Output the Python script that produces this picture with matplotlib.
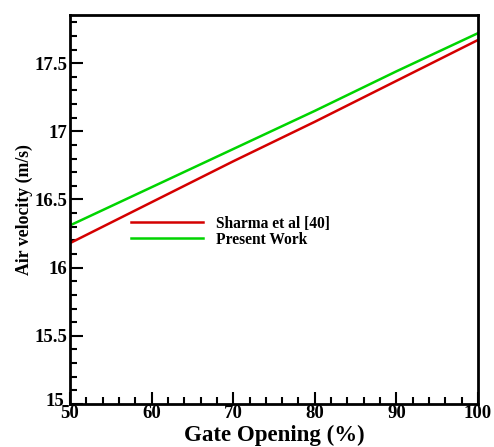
import numpy as np
import matplotlib
matplotlib.use('Agg')
import matplotlib.pyplot as plt
from matplotlib.ticker import MultipleLocator
from matplotlib.transforms import ScaledTranslation

# gate opening (%) and air velocity (m/s)
gate = [50, 60, 70, 80, 90, 100]
sharma = [16.18, 16.48, 16.78, 17.07, 17.37, 17.67]
present = [16.31, 16.59, 16.87, 17.15, 17.44, 17.72]
yticks = [15, 15.5, 16, 16.5, 17, 17.5]
ylabels = ['15', '15.5', '16', '16.5', '17', '17.5']

plt.rcParams['font.family'] = ['Liberation Serif', 'DejaVu Serif']
plt.rcParams['font.weight'] = 'bold'

fig = plt.figure(figsize=(4.94, 4.47), dpi=100)
ax = fig.add_axes([0.1417, 0.0962, 0.8259, 0.8708])

ax.plot(gate, sharma, color='#d40000', lw=1.8, label='Sharma et al [40]')
ax.plot(gate, present, color='#00d400', lw=1.8, label='Present Work')

ax.set_xlim(50, 100)
ax.set_ylim(15, 17.855)
ax.xaxis.set_major_locator(MultipleLocator(10))
ax.xaxis.set_minor_locator(MultipleLocator(2))
ax.yaxis.set_minor_locator(MultipleLocator(0.1))
ax.set_yticks(yticks)
ax.set_yticklabels(ylabels)

ax.tick_params(which='both', direction='in', width=1.5, labelsize=13.5, pad=2)
ax.tick_params(which='major', length=9)
ax.tick_params(which='minor', length=5)
ax.tick_params(axis='x', which='both', pad=1)
for s in ax.spines.values():
    s.set_linewidth(2)

# bottom y label sits a bit high and left, like the original
lab15 = ax.get_yticklabels()[0]
lab15.set_transform(lab15.get_transform() + ScaledTranslation(-3/100, 4/100, fig.dpi_scale_trans))

ax.set_xlabel('Gate Opening (%)', fontsize=16.5, fontweight='bold', labelpad=2)
ax.set_ylabel('Air velocity (m/s)', fontsize=12.8, fontweight='bold', labelpad=1)

ax.legend(loc='upper left', bbox_to_anchor=(0.135, 0.5), frameon=False,
          fontsize=11.2, handlelength=4.6, handletextpad=0.85, labelspacing=0.0,
          borderaxespad=0)

fig.savefig('out.png', dpi=100)
